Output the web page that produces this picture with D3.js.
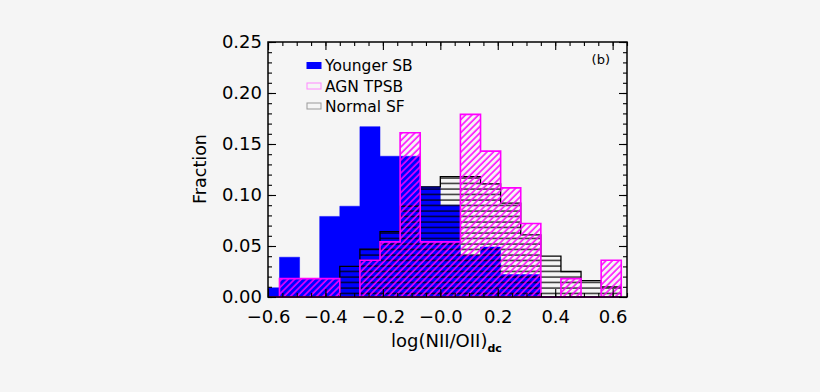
<!DOCTYPE html>
<html>
<head>
<meta charset="utf-8">
<script src="https://cdn.jsdelivr.net/npm/d3@7/dist/d3.min.js"></script>
<style>
  body { margin: 0; background: #f5f5f5; }
  svg { display: block; }
  text { font-family: "DejaVu Sans", sans-serif; fill: #000; }
</style>
</head>
<body>
<div id="chart"></div>
<script>
// histogram bins, left edges (bin width 0.07)
var binStarts = [-0.63, -0.56, -0.49, -0.42, -0.35, -0.28, -0.21, -0.14, -0.07,
                 0.00, 0.07, 0.14, 0.21, 0.28, 0.35, 0.42, 0.49, 0.56];
var binWidth = 0.07;

var youngerSB = [0.009, 0.039, 0.018, 0.079, 0.089, 0.167, 0.138, 0.138, 0.108,
                 0.090, 0.041, 0.049, 0.022, 0.022, 0, 0, 0, 0];
var normalSF  = [0, 0, 0, 0, 0.030, 0.047, 0.064, 0.089, 0.108,
                 0.118, 0.118, 0.111, 0.092, 0.061, 0.040, 0.025, 0.016, 0.010];
var agnTPSB   = [0, 0.018, 0.018, 0.018, 0, 0.036, 0.054, 0.161, 0.054,
                 0.054, 0.179, 0.143, 0.107, 0.072, 0, 0.018, 0, 0.036];

var legendNames = ['Younger SB', 'AGN TPSB', 'Normal SF'];

var xTicks = [-0.6, -0.4, -0.2, 0.0, 0.2, 0.4, 0.6];
var xTickLabels = ['\u22120.6', '\u22120.4', '\u22120.2', '\u22120.0', '0.2', '0.4', '0.6'];
var xMinor = d3.range(-0.6, 0.651, 0.05);
var yTicks = [0, 0.05, 0.10, 0.15, 0.20, 0.25];
var yTickLabels = ['0.00', '0.05', '0.10', '0.15', '0.20', '0.25'];
var yMinor = d3.range(0, 0.2501, 0.01);

var W = 820, H = 392;
var plot = { left: 268, right: 627, top: 42, bottom: 297 };

var svg = d3.select('#chart').append('svg')
  .attr('width', W)
  .attr('height', H);

svg.append('rect')
  .attr('width', W).attr('height', H)
  .attr('fill', '#f5f5f5');

var x = d3.scaleLinear().domain([-0.6, 0.65]).range([plot.left, plot.right]);
var y = d3.scaleLinear().domain([0, 0.25]).range([plot.bottom, plot.top]);

var defs = svg.append('defs');

defs.append('clipPath').attr('id', 'plotclip')
  .append('rect')
  .attr('x', plot.left).attr('y', plot.top - 2)
  .attr('width', plot.right - plot.left).attr('height', plot.bottom - plot.top + 4);

var diag = defs.append('pattern')
  .attr('id', 'diag')
  .attr('patternUnits', 'userSpaceOnUse')
  .attr('width', 4.6).attr('height', 10)
  .attr('patternTransform', 'rotate(45)');
diag.append('line')
  .attr('x1', 1).attr('y1', 0).attr('x2', 1).attr('y2', 10)
  .attr('stroke', '#ff00ff').attr('stroke-width', 1.5);

var horiz = defs.append('pattern')
  .attr('id', 'horiz')
  .attr('patternUnits', 'userSpaceOnUse')
  .attr('width', 10).attr('height', 5.5);
horiz.append('line')
  .attr('x1', 0).attr('y1', 2).attr('x2', 10).attr('y2', 2)
  .attr('stroke', '#000').attr('stroke-width', 1.2);

// step points: one per bin plus the closing right edge
var steps = function(vals) {
  var pts = binStarts.map(function(b, i) { return { x: b, v: vals[i] }; });
  pts.push({ x: binStarts[binStarts.length - 1] + binWidth, v: vals[vals.length - 1] });
  return pts;
};

var stepArea = d3.area()
  .curve(d3.curveStepAfter)
  .x(function(d) { return x(d.x); })
  .y0(y(0))
  .y1(function(d) { return y(d.v); });

var hist = svg.append('g').attr('clip-path', 'url(#plotclip)');

// younger SB: solid blue
hist.append('path')
  .attr('d', stepArea(steps(youngerSB)) + 'Z')
  .attr('fill', '#0000ff')
  .attr('stroke', '#0000ff')
  .attr('stroke-width', 0.5);

// normal SF: horizontal hatching, black outline
hist.append('path')
  .attr('d', stepArea(steps(normalSF)) + 'Z')
  .attr('fill', 'url(#horiz)')
  .attr('stroke', '#000')
  .attr('stroke-width', 1.3);

// AGN TPSB: diagonal magenta hatching
hist.append('path')
  .attr('d', stepArea(steps(agnTPSB)) + 'Z')
  .attr('fill', 'url(#diag)')
  .attr('stroke', '#ff00ff')
  .attr('stroke-width', 1.6);

// frame
svg.append('rect')
  .attr('x', plot.left).attr('y', plot.top)
  .attr('width', plot.right - plot.left).attr('height', plot.bottom - plot.top)
  .attr('fill', 'none')
  .attr('stroke', '#000')
  .attr('stroke-width', 1.5);

// axes, ticks pointing inward on all four sides
var fontSize = 18;

var xAxis = d3.axisBottom(x)
  .tickValues(xTicks)
  .tickFormat(function(d, i) { return xTickLabels[i]; })
  .tickSizeInner(-8).tickSizeOuter(0).tickPadding(13);
svg.append('g').attr('transform', 'translate(0,' + plot.bottom + ')').call(xAxis);

svg.append('g').attr('transform', 'translate(0,' + plot.bottom + ')')
  .call(d3.axisBottom(x).tickValues(xMinor).tickFormat('').tickSizeInner(-4).tickSizeOuter(0));
svg.append('g').attr('transform', 'translate(0,' + plot.top + ')')
  .call(d3.axisTop(x).tickValues(xMinor).tickFormat('').tickSizeInner(-4).tickSizeOuter(0));
svg.append('g').attr('transform', 'translate(0,' + plot.top + ')')
  .call(d3.axisTop(x).tickValues(xTicks).tickFormat('').tickSizeInner(-8).tickSizeOuter(0));

var yAxis = d3.axisLeft(y)
  .tickValues(yTicks)
  .tickFormat(function(d, i) { return yTickLabels[i]; })
  .tickSizeInner(-8).tickSizeOuter(0).tickPadding(6);
svg.append('g').attr('transform', 'translate(' + plot.left + ',0)').call(yAxis);

svg.append('g').attr('transform', 'translate(' + plot.left + ',0)')
  .call(d3.axisLeft(y).tickValues(yMinor).tickFormat('').tickSizeInner(-4).tickSizeOuter(0));
svg.append('g').attr('transform', 'translate(' + plot.right + ',0)')
  .call(d3.axisRight(y).tickValues(yMinor).tickFormat('').tickSizeInner(-4).tickSizeOuter(0));
svg.append('g').attr('transform', 'translate(' + plot.right + ',0)')
  .call(d3.axisRight(y).tickValues(yTicks).tickFormat('').tickSizeInner(-8).tickSizeOuter(0));

svg.selectAll('.domain').remove();
svg.selectAll('.tick line').attr('stroke', '#000').attr('stroke-width', 1.1);
svg.selectAll('.tick text')
  .style('font-family', '"DejaVu Sans", sans-serif')
  .style('font-size', fontSize + 'px')
  .attr('fill', '#000');

// axis titles
svg.append('text')
  .attr('transform', 'translate(206,169) rotate(-90)')
  .attr('text-anchor', 'middle')
  .style('font-size', '17.5px')
  .text('Fraction');

var xt = svg.append('text')
  .attr('x', 391).attr('y', 347)
  .style('font-size', '18px');
xt.append('tspan').text('log(NII/OII)');
xt.append('tspan')
  .attr('dy', 5)
  .style('font-size', '11px')
  .style('font-weight', 'bold')
  .text('dc');

// panel label
svg.append('text')
  .attr('x', 610).attr('y', 64)
  .attr('text-anchor', 'end')
  .style('font-size', '13px')
  .text('(b)');

// legend
var legend = svg.append('g').attr('transform', 'translate(307,0)');
var legendY = [65.5, 86, 106];
var legendSwatch = [
  { fill: '#0000ff', stroke: '#0000ff' },
  { fill: 'none', stroke: '#ff88ff' },
  { fill: 'none', stroke: '#999999' }
];
legendNames.forEach(function(name, i) {
  legend.append('rect')
    .attr('x', 0).attr('y', legendY[i] - 3)
    .attr('width', 14).attr('height', 6)
    .attr('fill', legendSwatch[i].fill)
    .attr('stroke', legendSwatch[i].stroke)
    .attr('stroke-width', 1);
  legend.append('text')
    .attr('x', 18).attr('y', legendY[i] + 5.5)
    .style('font-size', '15.5px')
    .text(name);
});
</script>
</body>
</html>
